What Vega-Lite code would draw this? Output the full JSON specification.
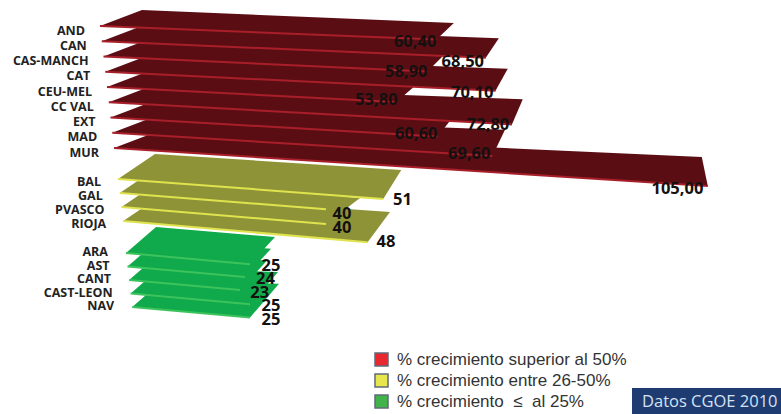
{"$schema":"https://vega.github.io/schema/vega-lite/v6.json","width":781,"height":414,"padding":0,"autosize":{"type":"fit","contains":"padding"},"background":"white","config":{"view":{"stroke":null}},
"datasets":{"barras":[
{"region":"ARA","valor":25,"grupo":"% crecimiento \u00a0\u2264\u00a0 al 25%","ord":0},
{"region":"AST","valor":24,"grupo":"% crecimiento \u00a0\u2264\u00a0 al 25%","ord":1},
{"region":"CANT","valor":23,"grupo":"% crecimiento \u00a0\u2264\u00a0 al 25%","ord":2},
{"region":"CAST-LEON","valor":25,"grupo":"% crecimiento \u00a0\u2264\u00a0 al 25%","ord":3},
{"region":"NAV","valor":25,"grupo":"% crecimiento \u00a0\u2264\u00a0 al 25%","ord":4},
{"region":"BAL","valor":51,"grupo":"% crecimiento entre 26-50%","ord":0},
{"region":"GAL","valor":40,"grupo":"% crecimiento entre 26-50%","ord":1},
{"region":"PVASCO","valor":40,"grupo":"% crecimiento entre 26-50%","ord":2},
{"region":"RIOJA","valor":48,"grupo":"% crecimiento entre 26-50%","ord":3},
{"region":"AND","valor":60.4,"grupo":"% crecimiento superior al 50%","ord":0},
{"region":"CAN","valor":68.5,"grupo":"% crecimiento superior al 50%","ord":1},
{"region":"CAS-MANCH","valor":58.9,"grupo":"% crecimiento superior al 50%","ord":2},
{"region":"CAT","valor":70.1,"grupo":"% crecimiento superior al 50%","ord":3},
{"region":"CEU-MEL","valor":53.8,"grupo":"% crecimiento superior al 50%","ord":4},
{"region":"CC VAL","valor":72.8,"grupo":"% crecimiento superior al 50%","ord":5},
{"region":"EXT","valor":60.6,"grupo":"% crecimiento superior al 50%","ord":6},
{"region":"MAD","valor":69.6,"grupo":"% crecimiento superior al 50%","ord":7},
{"region":"MUR","valor":105,"grupo":"% crecimiento superior al 50%","ord":8}
],"fuente":[{"texto":"Datos CGOE 2010"}]},
"data":{"name":"barras"},
"transform":[
{"calculate":"indexof(datum.grupo,'superior')>=0?0:indexof(datum.grupo,'entre')>=0?1:2","as":"g"},
{"calculate":"datum.ord","as":"i"},
{"calculate":"[100,118,126][datum.g]+[1.75,1.75,1.55][datum.g]*datum.i","as":"fx"},
{"calculate":"[26,179,253][datum.g]+[15.25,14,13.5][datum.g]*datum.i","as":"fy"},
{"calculate":"datum.fx+[42,37,30][datum.g]","as":"blx"},
{"calculate":"datum.fy-[16,25,26][datum.g]","as":"bly"},
{"calculate":"[118+5.56*datum.valor,210+3.75*datum.valor,150+5*datum.valor+datum.i][datum.g]","as":"brx"},
{"calculate":"[datum.bly+13+max(0,datum.brx-datum.blx-376)*0.071,datum.bly+16,datum.fy-16-1.8*datum.i][datum.g]","as":"bry"},
{"calculate":"[datum.brx-11+(datum.brx-521)*0.094,118+5.2*datum.valor,125+5*datum.valor][datum.g]","as":"frx"},
{"calculate":"datum.fy+[0.04+0.003*datum.i,0.075+0.004*datum.i,0.09][datum.g]*(datum.frx-datum.fx)","as":"fry"},
{"calculate":"[60+5.88*datum.valor,122+5.5*datum.valor,131+5.6*datum.valor][datum.g]","as":"vx"},
{"calculate":"[datum.fy+0.55*(datum.valor-31),datum.fy+20.5,datum.fy+12.5][datum.g]","as":"vy"},
{"calculate":"datum.g===0?replace(format(datum.valor,'.2f'),'.',','):format(datum.valor,'d')","as":"vt"},
{"calculate":"datum.fx-[15,17,18][datum.g]","as":"rx"},
{"calculate":"datum.fy+[4.5,3,-1][datum.g]","as":"ry"},
{"calculate":"[0,1,2,3]","as":"c"},
{"flatten":["c"]},
{"calculate":"[datum.fx,datum.blx,datum.brx,datum.frx][datum.c]","as":"px"},
{"calculate":"[datum.fy,datum.bly,datum.bry,datum.fry][datum.c]","as":"py"}
],
"layer":[
{"mark":{"type":"line","filled":true,"strokeWidth":0.5,"interpolate":"linear"},
"encoding":{
"x":{"field":"px","type":"quantitative","scale":{"domain":[0,781],"nice":false,"zero":false},"axis":null},
"y":{"field":"py","type":"quantitative","scale":{"domain":[414,0],"nice":false,"zero":false},"axis":null},
"order":{"field":"c","type":"quantitative"},
"detail":{"field":"region"},
"fill":{"field":"grupo","type":"nominal","legend":null,"scale":{"domain":["% crecimiento superior al 50%","% crecimiento entre 26-50%","% crecimiento \u00a0\u2264\u00a0 al 25%"],"range":["#5a0e14","#8f9338","#10a94b"]}}
}},
{"transform":[{"filter":"datum.c===0||datum.c===3"}],
"mark":{"type":"line","strokeWidth":2},
"encoding":{
"x":{"field":"px","type":"quantitative"},
"y":{"field":"py","type":"quantitative"},
"order":{"field":"c","type":"quantitative"},
"detail":{"field":"region"},
"stroke":{"field":"grupo","type":"nominal","legend":null,"scale":{"domain":["% crecimiento superior al 50%","% crecimiento entre 26-50%","% crecimiento \u00a0\u2264\u00a0 al 25%"],"range":["#a81f2a","#dfe34e","#3cc35c"]}}
}},
{"transform":[{"filter":"datum.c===0"}],
"mark":{"type":"text","align":"right","baseline":"middle","font":"Open Sans","fontWeight":"bold","fontSize":12.5,"fill":"#222222"},
"encoding":{"x":{"field":"rx","type":"quantitative"},"y":{"field":"ry","type":"quantitative"},"text":{"field":"region"}}},
{"transform":[{"filter":"datum.c===0"}],
"mark":{"type":"text","align":"center","baseline":"middle","font":"Open Sans","fontWeight":"bold","fontSize":16.5,"fill":"#141010"},
"encoding":{"x":{"field":"vx","type":"quantitative"},"y":{"field":"vy","type":"quantitative"},"text":{"field":"vt"}}},
{"transform":[{"filter":"datum.c===0"}],
"mark":{"type":"point","shape":"square","filled":true,"opacity":0,"size":1},
"encoding":{"x":{"field":"fx","type":"quantitative"},"y":{"field":"fy","type":"quantitative"},
"color":{"field":"grupo","type":"nominal","scale":{"domain":["% crecimiento superior al 50%","% crecimiento entre 26-50%","% crecimiento \u00a0\u2264\u00a0 al 25%"],"range":["#e9272f","#e7e64c","#40b44b"]},
"legend":{"title":null,"orient":"none","legendX":373,"legendY":351,"symbolType":"square","symbolSize":170,"symbolOpacity":1,"symbolStrokeColor":"#5f6b7a","symbolStrokeWidth":1.5,"labelFont":"Liberation Sans","labelFontSize":17,"labelColor":"#333333","labelLimit":300,"rowPadding":0,"labelOffset":7}}}},
{"data":{"name":"fuente"},"transform":[],
"mark":{"type":"rect","fill":"#1e3c72"},
"encoding":{"x":{"datum":632},"x2":{"datum":781},"y":{"datum":388},"y2":{"datum":414}}},
{"data":{"name":"fuente"},"transform":[],
"mark":{"type":"text","align":"left","baseline":"middle","font":"Open Sans","fontSize":16.5,"fill":"#d5e2f2"},
"encoding":{"x":{"datum":642},"y":{"datum":402},"text":{"field":"texto"}}}
],
"resolve":{"scale":{"color":"independent"}}}
